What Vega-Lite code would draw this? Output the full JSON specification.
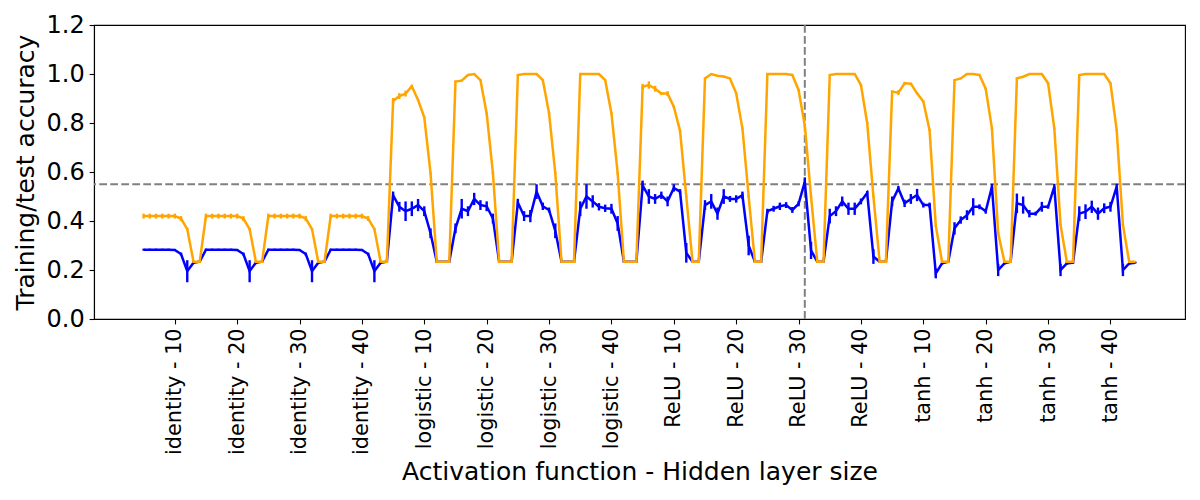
{
  "$schema": "https://vega.github.io/schema/vega-lite/v6.json",
  "width": 1091,
  "height": 294,
  "autosize": {"type": "none"},
  "padding": {"left": 94, "top": 25, "right": 15, "bottom": 181},
  "background": "white",
  "config": {
    "font": "DejaVu Sans",
    "view": {"stroke": "black", "strokeWidth": 1.1},
    "axis": {
      "grid": false,
      "domainColor": "black",
      "domainWidth": 1.1,
      "tickColor": "black",
      "tickWidth": 1.1,
      "tickSize": 4.9,
      "labelColor": "black",
      "titleColor": "black",
      "titleFontWeight": "normal",
      "titleFontSize": 25,
      "labelFlush": false,
      "labelOverlap": false
    },
    "axisX": {
      "labelExpr": "['identity - 10','identity - 20','identity - 30','identity - 40','logistic - 10','logistic - 20','logistic - 30','logistic - 40','ReLU - 10','ReLU - 20','ReLU - 30','ReLU - 40','tanh - 10','tanh - 20','tanh - 30','tanh - 40'][floor(datum.value / 10)]",
      "labelAngle": -90,
      "labelFontSize": 20.8,
      "labelPadding": 4,
      "titlePadding": 5
    },
    "axisY": {
      "labelFontSize": 24,
      "labelPadding": 4.9,
      "titlePadding": 8
    }
  },
  "data": {
    "values": [
      {"i":0,"train":0.42,"train_err":0.01,"test":0.283,"test_err":0.004},
      {"i":1,"train":0.42,"train_err":0.01,"test":0.283,"test_err":0.004},
      {"i":2,"train":0.42,"train_err":0.01,"test":0.283,"test_err":0.004},
      {"i":3,"train":0.42,"train_err":0.01,"test":0.283,"test_err":0.004},
      {"i":4,"train":0.42,"train_err":0.01,"test":0.283,"test_err":0.004},
      {"i":5,"train":0.42,"train_err":0.01,"test":0.282,"test_err":0.004},
      {"i":6,"train":0.41,"train_err":0.01,"test":0.265,"test_err":0.006},
      {"i":7,"train":0.367,"train_err":0.005,"test":0.195,"test_err":0.045},
      {"i":8,"train":0.234,"train_err":0.002,"test":0.23,"test_err":0.006},
      {"i":9,"train":0.234,"train_err":0.002,"test":0.234,"test_err":0.003},
      {"i":10,"train":0.42,"train_err":0.01,"test":0.283,"test_err":0.004},
      {"i":11,"train":0.42,"train_err":0.01,"test":0.283,"test_err":0.004},
      {"i":12,"train":0.42,"train_err":0.01,"test":0.283,"test_err":0.004},
      {"i":13,"train":0.42,"train_err":0.01,"test":0.283,"test_err":0.004},
      {"i":14,"train":0.42,"train_err":0.01,"test":0.283,"test_err":0.004},
      {"i":15,"train":0.42,"train_err":0.01,"test":0.282,"test_err":0.004},
      {"i":16,"train":0.41,"train_err":0.01,"test":0.265,"test_err":0.006},
      {"i":17,"train":0.367,"train_err":0.005,"test":0.195,"test_err":0.045},
      {"i":18,"train":0.234,"train_err":0.002,"test":0.23,"test_err":0.006},
      {"i":19,"train":0.234,"train_err":0.002,"test":0.234,"test_err":0.003},
      {"i":20,"train":0.42,"train_err":0.01,"test":0.283,"test_err":0.004},
      {"i":21,"train":0.42,"train_err":0.01,"test":0.283,"test_err":0.004},
      {"i":22,"train":0.42,"train_err":0.01,"test":0.283,"test_err":0.004},
      {"i":23,"train":0.42,"train_err":0.01,"test":0.283,"test_err":0.004},
      {"i":24,"train":0.42,"train_err":0.01,"test":0.283,"test_err":0.004},
      {"i":25,"train":0.42,"train_err":0.01,"test":0.282,"test_err":0.004},
      {"i":26,"train":0.41,"train_err":0.01,"test":0.265,"test_err":0.006},
      {"i":27,"train":0.367,"train_err":0.005,"test":0.195,"test_err":0.045},
      {"i":28,"train":0.234,"train_err":0.002,"test":0.23,"test_err":0.006},
      {"i":29,"train":0.234,"train_err":0.002,"test":0.234,"test_err":0.003},
      {"i":30,"train":0.42,"train_err":0.01,"test":0.283,"test_err":0.004},
      {"i":31,"train":0.42,"train_err":0.01,"test":0.283,"test_err":0.004},
      {"i":32,"train":0.42,"train_err":0.01,"test":0.283,"test_err":0.004},
      {"i":33,"train":0.42,"train_err":0.01,"test":0.283,"test_err":0.004},
      {"i":34,"train":0.42,"train_err":0.01,"test":0.283,"test_err":0.004},
      {"i":35,"train":0.42,"train_err":0.01,"test":0.282,"test_err":0.004},
      {"i":36,"train":0.41,"train_err":0.01,"test":0.265,"test_err":0.006},
      {"i":37,"train":0.367,"train_err":0.005,"test":0.195,"test_err":0.045},
      {"i":38,"train":0.234,"train_err":0.002,"test":0.23,"test_err":0.006},
      {"i":39,"train":0.234,"train_err":0.002,"test":0.234,"test_err":0.003},
      {"i":40,"train":0.89,"train_err":0.012,"test":0.505,"test_err":0.015},
      {"i":41,"train":0.91,"train_err":0.012,"test":0.458,"test_err":0.02},
      {"i":42,"train":0.92,"train_err":0.012,"test":0.44,"test_err":0.04},
      {"i":43,"train":0.95,"train_err":0.006,"test":0.45,"test_err":0.03},
      {"i":44,"train":0.894,"train_err":0.004,"test":0.465,"test_err":0.025},
      {"i":45,"train":0.823,"train_err":0.004,"test":0.44,"test_err":0.02},
      {"i":46,"train":0.595,"train_err":0.004,"test":0.35,"test_err":0.02},
      {"i":47,"train":0.234,"train_err":0.002,"test":0.234,"test_err":0.003},
      {"i":48,"train":0.234,"train_err":0.002,"test":0.234,"test_err":0.003},
      {"i":49,"train":0.234,"train_err":0.002,"test":0.234,"test_err":0.003},
      {"i":50,"train":0.969,"train_err":0.004,"test":0.37,"test_err":0.02},
      {"i":51,"train":0.973,"train_err":0.004,"test":0.45,"test_err":0.04},
      {"i":52,"train":0.996,"train_err":0.003,"test":0.44,"test_err":0.02},
      {"i":53,"train":1.0,"train_err":0.002,"test":0.49,"test_err":0.025},
      {"i":54,"train":0.975,"train_err":0.003,"test":0.465,"test_err":0.02},
      {"i":55,"train":0.839,"train_err":0.004,"test":0.46,"test_err":0.02},
      {"i":56,"train":0.595,"train_err":0.004,"test":0.41,"test_err":0.02},
      {"i":57,"train":0.234,"train_err":0.002,"test":0.234,"test_err":0.003},
      {"i":58,"train":0.234,"train_err":0.002,"test":0.234,"test_err":0.003},
      {"i":59,"train":0.234,"train_err":0.002,"test":0.234,"test_err":0.003},
      {"i":60,"train":0.996,"train_err":0.003,"test":0.475,"test_err":0.015},
      {"i":61,"train":1.0,"train_err":0.002,"test":0.42,"test_err":0.02},
      {"i":62,"train":1.0,"train_err":0.002,"test":0.42,"test_err":0.025},
      {"i":63,"train":1.0,"train_err":0.002,"test":0.52,"test_err":0.03},
      {"i":64,"train":0.975,"train_err":0.003,"test":0.46,"test_err":0.015},
      {"i":65,"train":0.84,"train_err":0.004,"test":0.445,"test_err":0.01},
      {"i":66,"train":0.595,"train_err":0.004,"test":0.36,"test_err":0.03},
      {"i":67,"train":0.234,"train_err":0.002,"test":0.234,"test_err":0.003},
      {"i":68,"train":0.234,"train_err":0.002,"test":0.234,"test_err":0.003},
      {"i":69,"train":0.234,"train_err":0.002,"test":0.234,"test_err":0.003},
      {"i":70,"train":1.0,"train_err":0.002,"test":0.45,"test_err":0.03},
      {"i":71,"train":1.0,"train_err":0.002,"test":0.5,"test_err":0.05},
      {"i":72,"train":1.0,"train_err":0.002,"test":0.48,"test_err":0.025},
      {"i":73,"train":1.0,"train_err":0.002,"test":0.458,"test_err":0.015},
      {"i":74,"train":0.975,"train_err":0.003,"test":0.452,"test_err":0.015},
      {"i":75,"train":0.84,"train_err":0.004,"test":0.45,"test_err":0.02},
      {"i":76,"train":0.595,"train_err":0.004,"test":0.39,"test_err":0.03},
      {"i":77,"train":0.234,"train_err":0.002,"test":0.234,"test_err":0.003},
      {"i":78,"train":0.234,"train_err":0.002,"test":0.234,"test_err":0.003},
      {"i":79,"train":0.234,"train_err":0.002,"test":0.234,"test_err":0.003},
      {"i":80,"train":0.948,"train_err":0.012,"test":0.545,"test_err":0.02},
      {"i":81,"train":0.955,"train_err":0.015,"test":0.5,"test_err":0.03},
      {"i":82,"train":0.94,"train_err":0.012,"test":0.49,"test_err":0.02},
      {"i":83,"train":0.92,"train_err":0.006,"test":0.505,"test_err":0.015},
      {"i":84,"train":0.92,"train_err":0.01,"test":0.48,"test_err":0.02},
      {"i":85,"train":0.867,"train_err":0.005,"test":0.535,"test_err":0.015},
      {"i":86,"train":0.768,"train_err":0.004,"test":0.52,"test_err":0.01},
      {"i":87,"train":0.5,"train_err":0.004,"test":0.27,"test_err":0.04},
      {"i":88,"train":0.234,"train_err":0.002,"test":0.234,"test_err":0.003},
      {"i":89,"train":0.234,"train_err":0.002,"test":0.234,"test_err":0.003},
      {"i":90,"train":0.982,"train_err":0.003,"test":0.465,"test_err":0.02},
      {"i":91,"train":1.0,"train_err":0.002,"test":0.48,"test_err":0.03},
      {"i":92,"train":0.993,"train_err":0.003,"test":0.43,"test_err":0.025},
      {"i":93,"train":0.99,"train_err":0.003,"test":0.5,"test_err":0.03},
      {"i":94,"train":0.982,"train_err":0.003,"test":0.49,"test_err":0.012},
      {"i":95,"train":0.921,"train_err":0.004,"test":0.49,"test_err":0.015},
      {"i":96,"train":0.778,"train_err":0.004,"test":0.505,"test_err":0.015},
      {"i":97,"train":0.5,"train_err":0.004,"test":0.3,"test_err":0.04},
      {"i":98,"train":0.234,"train_err":0.002,"test":0.234,"test_err":0.003},
      {"i":99,"train":0.234,"train_err":0.002,"test":0.234,"test_err":0.003},
      {"i":100,"train":1.0,"train_err":0.002,"test":0.44,"test_err":0.01},
      {"i":101,"train":1.0,"train_err":0.002,"test":0.45,"test_err":0.012},
      {"i":102,"train":1.0,"train_err":0.002,"test":0.46,"test_err":0.015},
      {"i":103,"train":1.0,"train_err":0.002,"test":0.465,"test_err":0.012},
      {"i":104,"train":0.996,"train_err":0.002,"test":0.445,"test_err":0.012},
      {"i":105,"train":0.935,"train_err":0.004,"test":0.47,"test_err":0.01},
      {"i":106,"train":0.79,"train_err":0.004,"test":0.56,"test_err":0.018},
      {"i":107,"train":0.5,"train_err":0.004,"test":0.28,"test_err":0.035},
      {"i":108,"train":0.234,"train_err":0.002,"test":0.234,"test_err":0.003},
      {"i":109,"train":0.234,"train_err":0.002,"test":0.234,"test_err":0.003},
      {"i":110,"train":0.996,"train_err":0.002,"test":0.42,"test_err":0.03},
      {"i":111,"train":1.0,"train_err":0.002,"test":0.44,"test_err":0.02},
      {"i":112,"train":1.0,"train_err":0.002,"test":0.48,"test_err":0.02},
      {"i":113,"train":1.0,"train_err":0.002,"test":0.45,"test_err":0.025},
      {"i":114,"train":1.0,"train_err":0.002,"test":0.45,"test_err":0.025},
      {"i":115,"train":0.955,"train_err":0.004,"test":0.48,"test_err":0.012},
      {"i":116,"train":0.8,"train_err":0.004,"test":0.515,"test_err":0.008},
      {"i":117,"train":0.5,"train_err":0.004,"test":0.255,"test_err":0.03},
      {"i":118,"train":0.234,"train_err":0.002,"test":0.234,"test_err":0.003},
      {"i":119,"train":0.234,"train_err":0.002,"test":0.234,"test_err":0.003},
      {"i":120,"train":0.928,"train_err":0.005,"test":0.48,"test_err":0.02},
      {"i":121,"train":0.924,"train_err":0.01,"test":0.533,"test_err":0.01},
      {"i":122,"train":0.962,"train_err":0.006,"test":0.472,"test_err":0.015},
      {"i":123,"train":0.96,"train_err":0.004,"test":0.49,"test_err":0.02},
      {"i":124,"train":0.921,"train_err":0.004,"test":0.506,"test_err":0.025},
      {"i":125,"train":0.888,"train_err":0.004,"test":0.465,"test_err":0.01},
      {"i":126,"train":0.771,"train_err":0.004,"test":0.465,"test_err":0.01},
      {"i":127,"train":0.38,"train_err":0.004,"test":0.186,"test_err":0.02},
      {"i":128,"train":0.234,"train_err":0.002,"test":0.227,"test_err":0.005},
      {"i":129,"train":0.234,"train_err":0.002,"test":0.234,"test_err":0.003},
      {"i":130,"train":0.975,"train_err":0.003,"test":0.37,"test_err":0.025},
      {"i":131,"train":0.982,"train_err":0.003,"test":0.404,"test_err":0.015},
      {"i":132,"train":1.0,"train_err":0.002,"test":0.424,"test_err":0.02},
      {"i":133,"train":1.0,"train_err":0.002,"test":0.458,"test_err":0.035},
      {"i":134,"train":0.996,"train_err":0.002,"test":0.458,"test_err":0.01},
      {"i":135,"train":0.94,"train_err":0.004,"test":0.44,"test_err":0.01},
      {"i":136,"train":0.778,"train_err":0.004,"test":0.54,"test_err":0.012},
      {"i":137,"train":0.35,"train_err":0.004,"test":0.2,"test_err":0.025},
      {"i":138,"train":0.234,"train_err":0.002,"test":0.227,"test_err":0.005},
      {"i":139,"train":0.234,"train_err":0.002,"test":0.234,"test_err":0.003},
      {"i":140,"train":0.982,"train_err":0.003,"test":0.472,"test_err":0.04},
      {"i":141,"train":0.989,"train_err":0.003,"test":0.465,"test_err":0.035},
      {"i":142,"train":1.0,"train_err":0.002,"test":0.43,"test_err":0.015},
      {"i":143,"train":1.0,"train_err":0.002,"test":0.43,"test_err":0.008},
      {"i":144,"train":1.0,"train_err":0.002,"test":0.458,"test_err":0.02},
      {"i":145,"train":0.962,"train_err":0.004,"test":0.458,"test_err":0.008},
      {"i":146,"train":0.778,"train_err":0.004,"test":0.54,"test_err":0.012},
      {"i":147,"train":0.384,"train_err":0.004,"test":0.2,"test_err":0.025},
      {"i":148,"train":0.234,"train_err":0.002,"test":0.227,"test_err":0.005},
      {"i":149,"train":0.234,"train_err":0.002,"test":0.23,"test_err":0.003},
      {"i":150,"train":0.996,"train_err":0.002,"test":0.43,"test_err":0.03},
      {"i":151,"train":1.0,"train_err":0.002,"test":0.438,"test_err":0.03},
      {"i":152,"train":1.0,"train_err":0.002,"test":0.458,"test_err":0.025},
      {"i":153,"train":1.0,"train_err":0.002,"test":0.43,"test_err":0.025},
      {"i":154,"train":1.0,"train_err":0.002,"test":0.452,"test_err":0.02},
      {"i":155,"train":0.962,"train_err":0.004,"test":0.458,"test_err":0.02},
      {"i":156,"train":0.771,"train_err":0.004,"test":0.54,"test_err":0.012},
      {"i":157,"train":0.384,"train_err":0.004,"test":0.2,"test_err":0.025},
      {"i":158,"train":0.234,"train_err":0.002,"test":0.227,"test_err":0.005},
      {"i":159,"train":0.234,"train_err":0.002,"test":0.23,"test_err":0.003}
    ]
  },
  "layer": [
    {
      "data": {"values": [{"ref": 0.55}]},
      "mark": {"type": "rule", "color": "#808080", "strokeWidth": 2, "strokeDash": [7.7, 3.3]},
      "encoding": {
        "y": {"field": "ref", "type": "quantitative", "scale": {"domain": [0, 1.2], "nice": false, "zero": false}, "title": "Training/test accuracy", "axis": {"values": [0, 0.2, 0.4, 0.6, 0.8, 1.0, 1.2], "format": ".1f"}}
      }
    },
    {
      "data": {"values": [{"ref": 106}]},
      "mark": {"type": "rule", "color": "#808080", "strokeWidth": 2, "strokeDash": [7.7, 3.3]},
      "encoding": {
        "x": {"field": "ref", "type": "quantitative", "scale": {"domain": [-7.95, 166.95], "nice": false, "zero": false}, "title": "Activation function - Hidden layer size", "axis": {"values": [5, 15, 25, 35, 45, 55, 65, 75, 85, 95, 105, 115, 125, 135, 145, 155]}}
      }
    },
    {
      "mark": {"type": "errorbar", "color": "#0000ff", "thickness": 2.4},
      "encoding": {
        "x": {"field": "i", "type": "quantitative", "scale": {"domain": [-7.95, 166.95], "nice": false, "zero": false}, "title": "Activation function - Hidden layer size", "axis": {"values": [5, 15, 25, 35, 45, 55, 65, 75, 85, 95, 105, 115, 125, 135, 145, 155]}},
        "y": {"field": "test", "type": "quantitative", "scale": {"domain": [0, 1.2], "nice": false, "zero": false}, "title": "Training/test accuracy", "axis": {"values": [0, 0.2, 0.4, 0.6, 0.8, 1.0, 1.2], "format": ".1f"}},
        "yError": {"field": "test_err"}
      }
    },
    {
      "mark": {"type": "line", "color": "#0000ff", "strokeWidth": 2.5},
      "encoding": {
        "x": {"field": "i", "type": "quantitative", "scale": {"domain": [-7.95, 166.95], "nice": false, "zero": false}, "title": "Activation function - Hidden layer size", "axis": {"values": [5, 15, 25, 35, 45, 55, 65, 75, 85, 95, 105, 115, 125, 135, 145, 155]}},
        "y": {"field": "test", "type": "quantitative", "scale": {"domain": [0, 1.2], "nice": false, "zero": false}, "title": "Training/test accuracy", "axis": {"values": [0, 0.2, 0.4, 0.6, 0.8, 1.0, 1.2], "format": ".1f"}}
      }
    },
    {
      "mark": {"type": "errorbar", "color": "#ffa500", "thickness": 2.4},
      "encoding": {
        "x": {"field": "i", "type": "quantitative", "scale": {"domain": [-7.95, 166.95], "nice": false, "zero": false}, "title": "Activation function - Hidden layer size", "axis": {"values": [5, 15, 25, 35, 45, 55, 65, 75, 85, 95, 105, 115, 125, 135, 145, 155]}},
        "y": {"field": "train", "type": "quantitative", "scale": {"domain": [0, 1.2], "nice": false, "zero": false}, "title": "Training/test accuracy", "axis": {"values": [0, 0.2, 0.4, 0.6, 0.8, 1.0, 1.2], "format": ".1f"}},
        "yError": {"field": "train_err"}
      }
    },
    {
      "mark": {"type": "line", "color": "#ffa500", "strokeWidth": 2.5},
      "encoding": {
        "x": {"field": "i", "type": "quantitative", "scale": {"domain": [-7.95, 166.95], "nice": false, "zero": false}, "title": "Activation function - Hidden layer size", "axis": {"values": [5, 15, 25, 35, 45, 55, 65, 75, 85, 95, 105, 115, 125, 135, 145, 155]}},
        "y": {"field": "train", "type": "quantitative", "scale": {"domain": [0, 1.2], "nice": false, "zero": false}, "title": "Training/test accuracy", "axis": {"values": [0, 0.2, 0.4, 0.6, 0.8, 1.0, 1.2], "format": ".1f"}}
      }
    }
  ]
}
